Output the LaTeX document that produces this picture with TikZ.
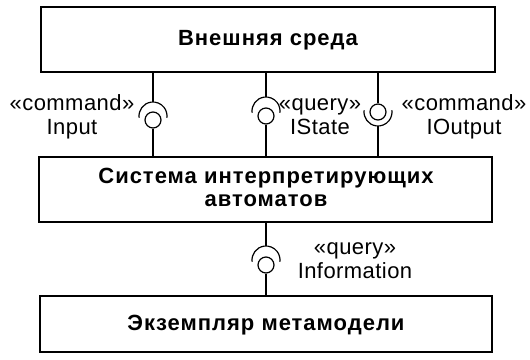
\documentclass[tikz,border=0pt]{standalone}
\usepackage{fontspec}
\setmainfont{Liberation Sans}
\begin{document}
\begin{tikzpicture}[x=1pt,y=-1pt,
  lbl/.style={font=\fontsize{22}{24}\selectfont\addfontfeature{LetterSpace=2}, align=center, inner sep=0pt},
  ttl/.style={font=\fontsize{22}{23}\selectfont\bfseries\addfontfeature{LetterSpace=4.5}, align=center, inner sep=0pt},
  wire/.style={line width=1.2pt},
  ball/.style={draw, line width=1.2pt, circle, minimum size=16pt, inner sep=0pt},
]
\useasboundingbox (0,0) rectangle (530,359);

% component boxes
\draw[wire] (41,7) rectangle (495,72);
\node[ttl] (env) at (268,40) {Внешняя среда};
\draw[wire] (39,157) rectangle (492,222);
\node[ttl] (sys) at (266,187) {Система интерпретирующих\\автоматов};
\draw[wire] (40,296) rectangle (492,352);
\node[ttl] (meta) at (266,325) {Экземпляр метамодели};

% Input: socket above, ball below
\coordinate (inTop) at (153,72);
\coordinate (inBot) at (153,157);
\node[ball] (inBall) at (153,120) {};
\draw[wire] (153,116) ++(188:14pt) arc[start angle=188, end angle=-8, radius=14pt];
\draw[wire] (inTop) -- (153,102);
\draw[wire] (inBall.south) -- (inBot);
\node[lbl] (inLbl) at (72,117) {«command»\\Input};

% IState: socket above, ball below
\coordinate (stTop) at (266,72);
\coordinate (stBot) at (266,157);
\node[ball] (stBall) at (266,116) {};
\draw[wire] (266,111) ++(188:14pt) arc[start angle=188, end angle=-8, radius=14pt];
\draw[wire] (stTop) -- (266,97);
\draw[wire] (stBall.south) -- (stBot);
\node[lbl] (stLbl) at (320,117) {«query»\\IState};

% IOutput: ball above, socket below
\coordinate (ouTop) at (378,72);
\coordinate (ouBot) at (378,157);
\node[ball] (ouBall) at (378,112) {};
\draw[wire] (378,112) ++(172:14pt) arc[start angle=172, end angle=368, radius=14pt];
\draw[wire] (ouTop) -- (ouBall.north);
\draw[wire] (378,126) -- (ouBot);
\node[lbl] (ouLbl) at (464,117) {«command»\\IOutput};

% Information: socket above, ball below
\coordinate (ifTop) at (266,222);
\coordinate (ifBot) at (266,296);
\node[ball] (ifBall) at (266,265) {};
\draw[wire] (266,260) ++(188:14pt) arc[start angle=188, end angle=-8, radius=14pt];
\draw[wire] (ifTop) -- (266,246);
\draw[wire] (ifBall.south) -- (ifBot);
\node[lbl] (ifLbl) at (355,261) {«query»\\Information};
\end{tikzpicture}
\end{document}
